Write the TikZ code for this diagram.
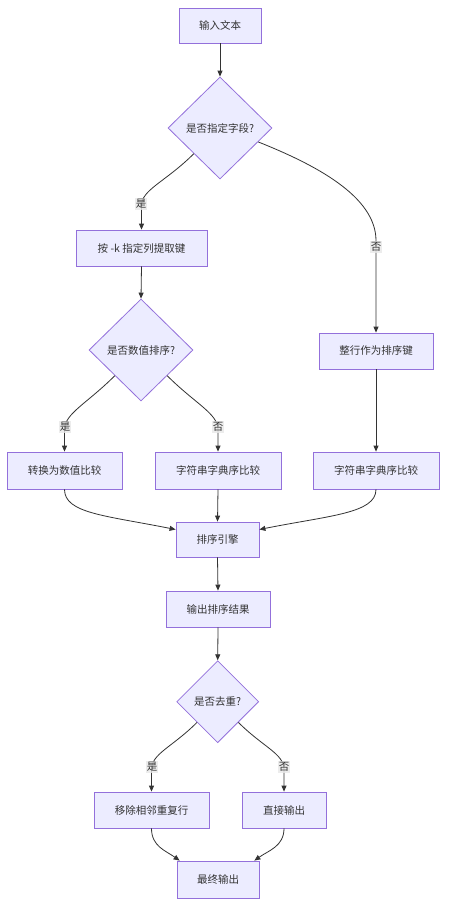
\documentclass[tikz,border=0pt]{standalone}
\usepackage{fontspec}
\setmainfont{Noto Sans CJK SC}
\usetikzlibrary{shapes.geometric,arrows.meta,calc}
\definecolor{nodefill}{HTML}{ECECFF}
\definecolor{nodeline}{HTML}{9370DB}
\definecolor{txt}{HTML}{333333}
\definecolor{edge}{HTML}{333333}
\definecolor{lblbg}{HTML}{E8E8E8}
\begin{document}
\begin{tikzpicture}[x=1pt,y=1pt,
  every node/.style={text=txt,font=\fontsize{10.5}{12}\selectfont},
  procbox/.style={draw=nodeline,fill=nodefill,line width=0.8pt,inner sep=0pt,rectangle},
  decbox/.style={draw=nodeline,fill=nodefill,line width=0.8pt,inner sep=0pt,diamond,shape aspect=1},
  conn/.style={draw=edge,line width=0.8pt,-{Triangle[length=6pt,width=5pt]}},
  lbl/.style={fill=lblbg,fill opacity=0.8,text opacity=1,inner sep=1pt}]
\useasboundingbox (0,0) rectangle (450,-906);
\fill[white] (0,0) rectangle (450,-906);

\node[procbox,minimum width=82,minimum height=35] (in) at (220,-25.5) {输入文本};
\node[decbox,minimum width=104,minimum height=102] (d1) at (220,-128) {是否指定字段?};
\node[procbox,minimum width=131,minimum height=36] (k) at (141.5,-248) {按 -k 指定列提取键};
\node[decbox,minimum width=104,minimum height=102] (d2) at (141,-350) {是否数值排序?};
\node[procbox,minimum width=114,minimum height=36] (whole) at (376,-351) {整行作为排序键};
\node[procbox,minimum width=115,minimum height=37] (conv) at (64.5,-470.5) {转换为数值比较};
\node[procbox,minimum width=126,minimum height=37] (lex1) at (218,-470.5) {字符串字典序比较};
\node[procbox,minimum width=126,minimum height=37] (lex2) at (376,-470.5) {字符串字典序比较};
\node[procbox,minimum width=83,minimum height=35] (eng) at (217.5,-539.5) {排序引擎};
\node[procbox,minimum width=104,minimum height=36] (out) at (218,-609) {输出排序结果};
\node[decbox,minimum width=82,minimum height=82] (d3) at (217.7,-701.7) {是否去重?};
\node[procbox,minimum width=115,minimum height=36] (rm) at (151.5,-810) {移除相邻重复行};
\node[procbox,minimum width=84,minimum height=36] (direct) at (284,-810) {直接输出};
\node[procbox,minimum width=82,minimum height=37] (final) at (218,-879.5) {最终输出};

\draw[conn] (in.south) -- (d1.north);
\draw[conn] (d1.south west) .. controls +(-28,-28) and +(0,16) .. ($(k.north)+(0,24)$) -- (k.north);
\draw[conn] (d1.-20) .. controls +(55,-22) and +(0,45) .. ($(whole.north)+(0,92)$) -- (whole.north);
\draw[conn] (k.south) -- (d2.north);
\draw[conn] (d2.south west) .. controls +(-28,-28) and +(0,16) .. ($(conv.north)+(0,22)$) -- (conv.north);
\draw[conn] (d2.south east) .. controls +(28,-28) and +(0,16) .. ($(lex1.north)+(0,22)$) -- (lex1.north);
\draw[conn] (whole.south) -- (lex2.north);
\draw[conn] (conv.south) .. controls +(0,-24) and +(-70,14) .. ([yshift=10]eng.west);
\draw[conn] (lex1.south) -- (eng.north);
\draw[conn] (lex2.south) .. controls +(0,-24) and +(70,14) .. ([yshift=10]eng.east);
\draw[conn] (eng.south) -- (out.north);
\draw[conn] (out.south) -- (d3.north);
\draw[conn] (d3.south west) .. controls +(-25,-25) and +(0,16) .. ($(rm.north)+(0,22)$) -- (rm.north);
\draw[conn] (d3.south east) .. controls +(25,-25) and +(0,16) .. ($(direct.north)+(0,22)$) -- (direct.north);
\draw[conn] (rm.south) .. controls +(0,-18) and +(-14,10) .. ([xshift=3]final.north west);
\draw[conn] (direct.south) .. controls +(0,-18) and +(14,10) .. ([xshift=-5]final.north east);

\node[lbl] (l1) at (141,-204) {是};
\node[lbl] (l2) at (376,-247) {否};
\node[lbl] (l3) at (65,-427) {是};
\node[lbl] (l4) at (218,-427) {否};
\node[lbl] (l5) at (152,-767) {是};
\node[lbl] (l6) at (284,-767) {否};
\end{tikzpicture}
\end{document}
